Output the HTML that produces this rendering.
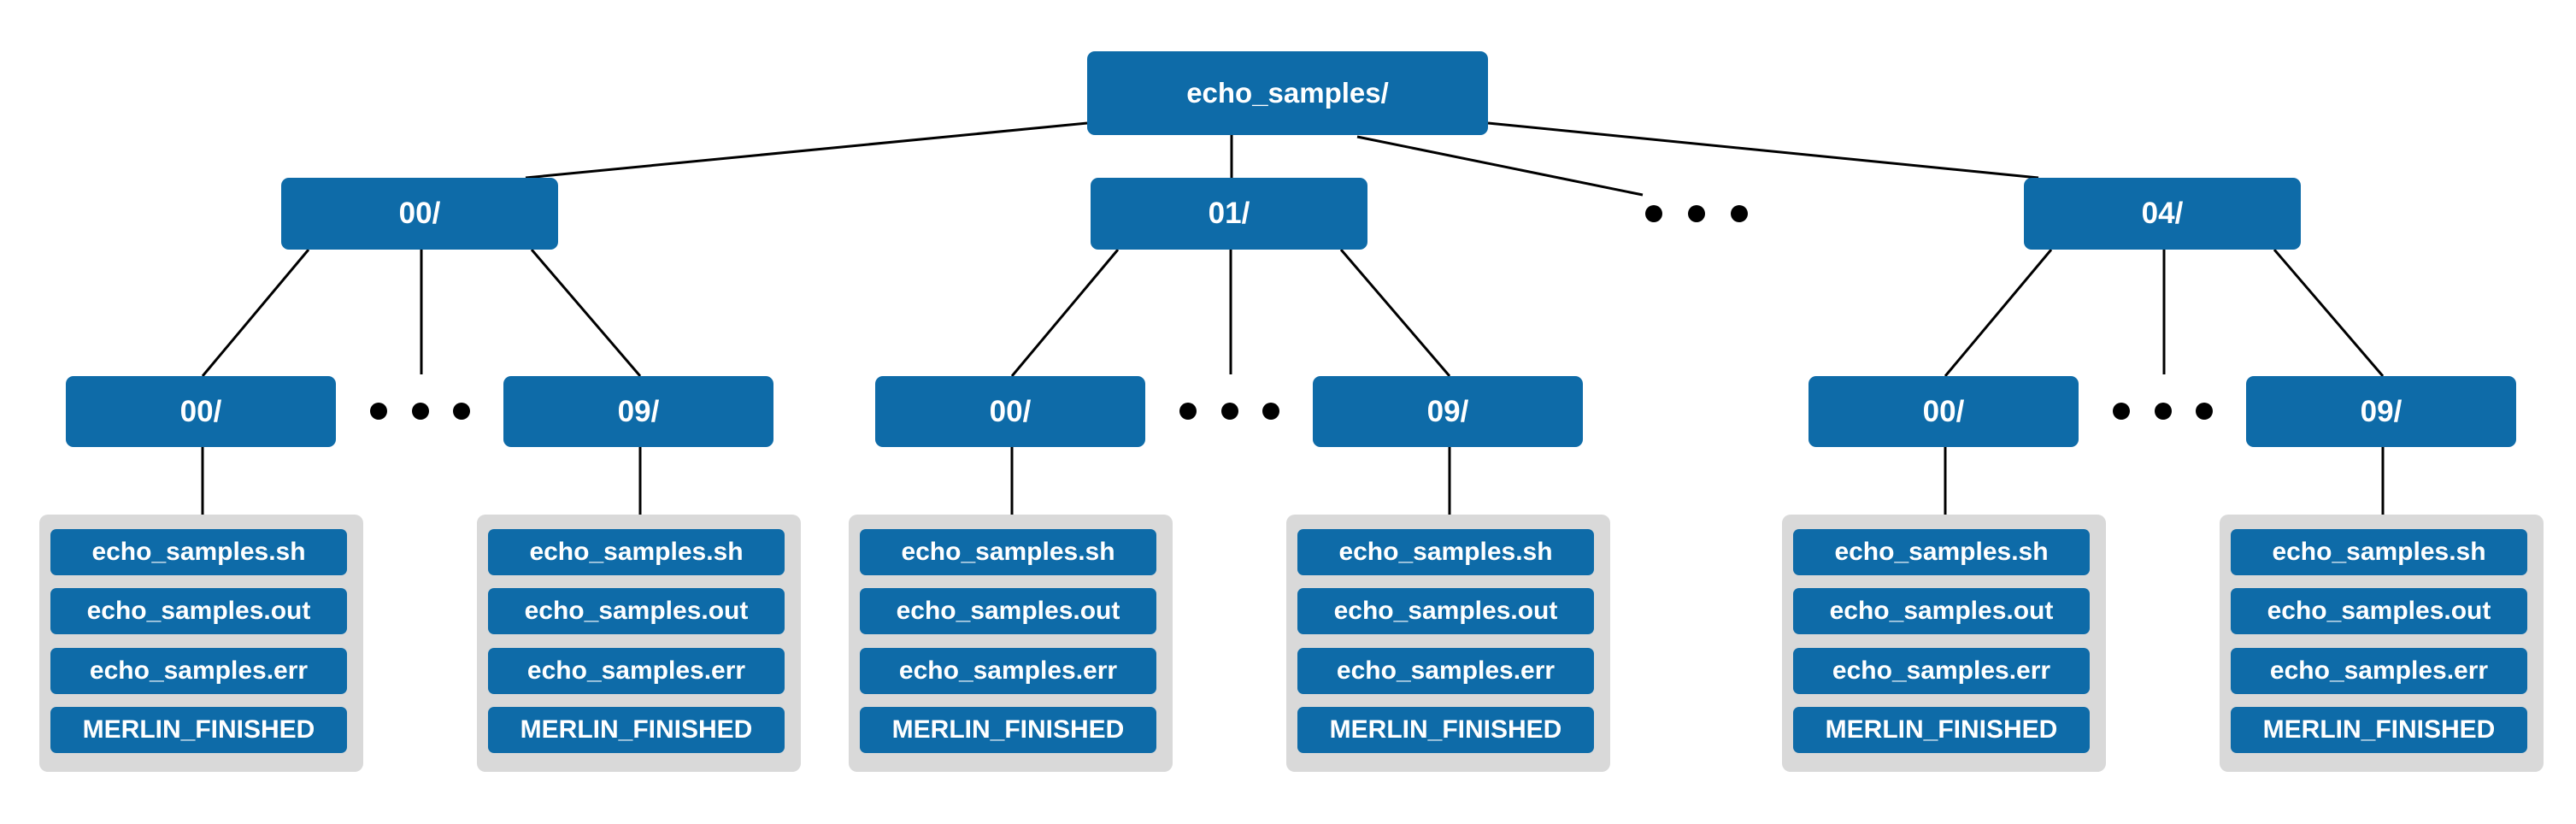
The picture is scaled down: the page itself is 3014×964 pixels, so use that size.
<!DOCTYPE html>
<html><head><meta charset="utf-8"><style>
html,body{margin:0;padding:0;background:#fff;}
body{width:3014px;height:964px;position:relative;overflow:hidden;font-family:"Liberation Sans",Arial,sans-serif;font-weight:bold;}
.b{position:absolute;background:#0e6ba8;color:#fff;border-radius:9px;display:flex;align-items:center;justify-content:center;}
.g{position:absolute;background:#d9d9d9;border-radius:10px;}
svg{position:absolute;left:0;top:0;}
</style></head><body>
<svg width="3014" height="964">
<g stroke="#000" stroke-width="3" fill="none">
<line x1="1272" y1="144" x2="615" y2="208"/>
<line x1="1441" y1="158" x2="1441" y2="208"/>
<line x1="1588" y1="160" x2="1922" y2="228"/>
<line x1="1741" y1="144" x2="2385" y2="208"/>
</g>
<g fill="#000"><circle cx="1935" cy="250" r="10"/><circle cx="1985" cy="250" r="10"/><circle cx="2035" cy="250" r="10"/></g>
</svg>
<div class="b" style="left:1272px;top:60px;width:469px;height:98px;font-size:33px;">echo_samples/</div>
<div id="root"></div>
<script>
var groups=[[329,"00/"],[1276,"01/"],[2368,"04/"]];
var h="";var s='<svg width="3014" height="964"><g stroke="#000" stroke-width="3">';
groups.forEach(function(g){
 var X=g[0];
 h+='<div class="b" style="left:'+X+'px;top:208px;width:324px;height:84px;font-size:35px;">'+g[1]+'</div>';
 s+='<line x1="'+(X+32)+'" y1="292" x2="'+(X-92)+'" y2="440"/>';
 s+='<line x1="'+(X+164)+'" y1="292" x2="'+(X+164)+'" y2="438"/>';
 s+='<line x1="'+(X+293)+'" y1="292" x2="'+(X+420)+'" y2="440"/>';
 s+='</g><g fill="#000">';
 [X+114,X+163,X+211].forEach(function(cx){s+='<circle cx="'+cx+'" cy="481" r="10"/>';});
 s+='</g><g stroke="#000" stroke-width="3">';
 [[X-252,"00/"],[X+260,"09/"]].forEach(function(c){
  var L=c[0];
  h+='<div class="b" style="left:'+L+'px;top:440px;width:316px;height:83px;font-size:35px;">'+c[1]+'</div>';
  s+='<line x1="'+(L+160)+'" y1="523" x2="'+(L+160)+'" y2="602"/>';
  h+='<div class="g" style="left:'+(L-31)+'px;top:602px;width:379px;height:301px;"></div>';
  ["echo_samples.sh","echo_samples.out","echo_samples.err","MERLIN_FINISHED"].forEach(function(t,i){
   h+='<div class="b" style="left:'+(L-18)+'px;top:'+(619+i*69.3)+'px;width:347px;height:54px;font-size:30px;border-radius:7px;">'+t+'</div>';
  });
 });
});
s+='</g></svg>';
document.getElementById('root').innerHTML=s+h;
</script>
</body></html>
